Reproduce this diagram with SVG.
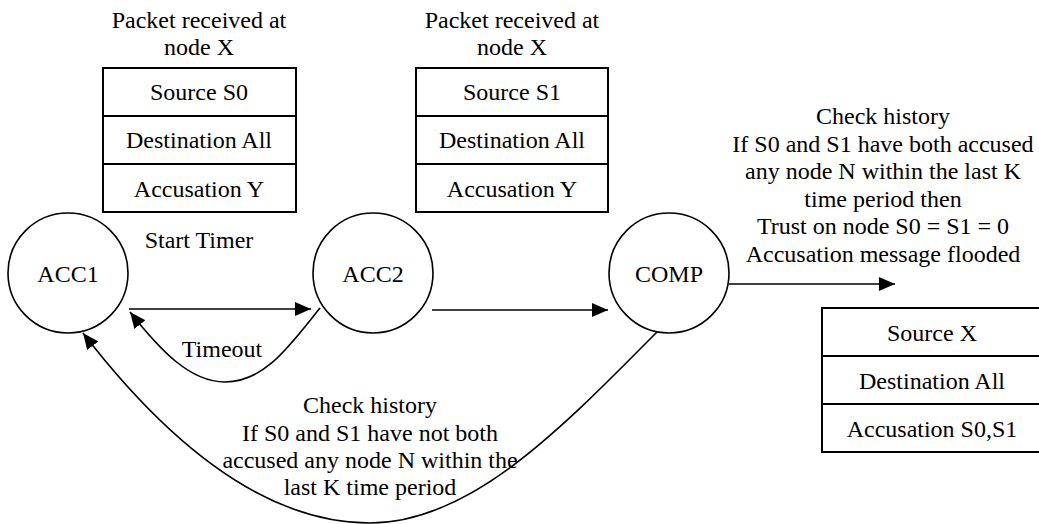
<svg xmlns="http://www.w3.org/2000/svg" width="1039" height="524" viewBox="0 0 1039 524">
<style>
text{font-family:"Liberation Serif","Times New Roman",serif;font-size:24px;fill:#000;text-anchor:middle}
.n{fill:#fff;stroke:#000;stroke-width:1.6}
.t{fill:#fff;stroke:#000;stroke-width:2}
.c{fill:none;stroke:#000;stroke-width:1.6}
</style>
<defs>
<marker id="ah" viewBox="0 0 16 14" refX="16" refY="7" markerWidth="16" markerHeight="14" markerUnits="userSpaceOnUse" orient="auto">
<path d="M0,0 L16,7 L0,14 Z" fill="#000"/>
</marker>
</defs>
<rect width="1039" height="524" fill="#fff"/>
<g id="connectors">
<path class="c" d="M129,309 L311,309" marker-end="url(#ah)"/>
<path class="c" d="M320,308 C290,345 265,382 225,382 C190,382 160,350 130,312" marker-end="url(#ah)"/>
<path class="c" d="M432,310 L608,310" marker-end="url(#ah)"/>
<path class="c" d="M729,284 L895,284" marker-end="url(#ah)"/>
<path class="c" d="M657,332 C560,430 470,523 370,523 C250,523 150,420 83,333" marker-end="url(#ah)"/>
</g>
<g id="pkt1">
<text x="199" y="28">Packet received at</text>
<text x="199" y="55">node X</text>
<rect class="t" x="103" y="68" width="193" height="144"/>
<line class="t" x1="103" y1="116" x2="296" y2="116"/>
<line class="t" x1="103" y1="164" x2="296" y2="164"/>
<text x="199" y="100">Source S0</text>
<text x="199" y="148">Destination All</text>
<text x="199" y="197">Accusation Y</text>
</g>
<g id="pkt2">
<text x="512" y="28">Packet received at</text>
<text x="512" y="55">node X</text>
<rect class="t" x="416" y="68" width="192" height="144"/>
<line class="t" x1="416" y1="116" x2="608" y2="116"/>
<line class="t" x1="416" y1="164" x2="608" y2="164"/>
<text x="512" y="100">Source S1</text>
<text x="512" y="148">Destination All</text>
<text x="512" y="197">Accusation Y</text>
</g>
<g id="pkt3">
<rect class="t" x="822" y="308" width="220" height="144"/>
<line class="t" x1="822" y1="356" x2="1042" y2="356"/>
<line class="t" x1="822" y1="404" x2="1042" y2="404"/>
<text x="932" y="341">Source X</text>
<text x="932" y="389">Destination All</text>
<text x="932" y="437">Accusation S0,S1</text>
</g>
<g id="acc1">
<circle class="n" cx="68" cy="273" r="60"/>
<text x="68" y="282">ACC1</text>
</g>
<g id="acc2">
<circle class="n" cx="373" cy="273" r="60"/>
<text x="373" y="282">ACC2</text>
</g>
<g id="comp">
<circle class="n" cx="669" cy="273" r="60"/>
<text x="669" y="282">COMP</text>
</g>
<g id="labels">
<text x="199" y="248">Start Timer</text>
<text x="222" y="357">Timeout</text>
<text x="883" y="124">Check history</text>
<text x="883" y="152">If S0 and S1 have both accused</text>
<text x="883" y="179">any node N within the last K</text>
<text x="883" y="207">time period then</text>
<text x="883" y="234">Trust on node S0 = S1 = 0</text>
<text x="883" y="262">Accusation message flooded</text>
<text x="370" y="413">Check history</text>
<text x="370" y="441">If S0 and S1 have not both</text>
<text x="370" y="468">accused any node N within the</text>
<text x="370" y="495">last K time period</text>
</g>
</svg>
